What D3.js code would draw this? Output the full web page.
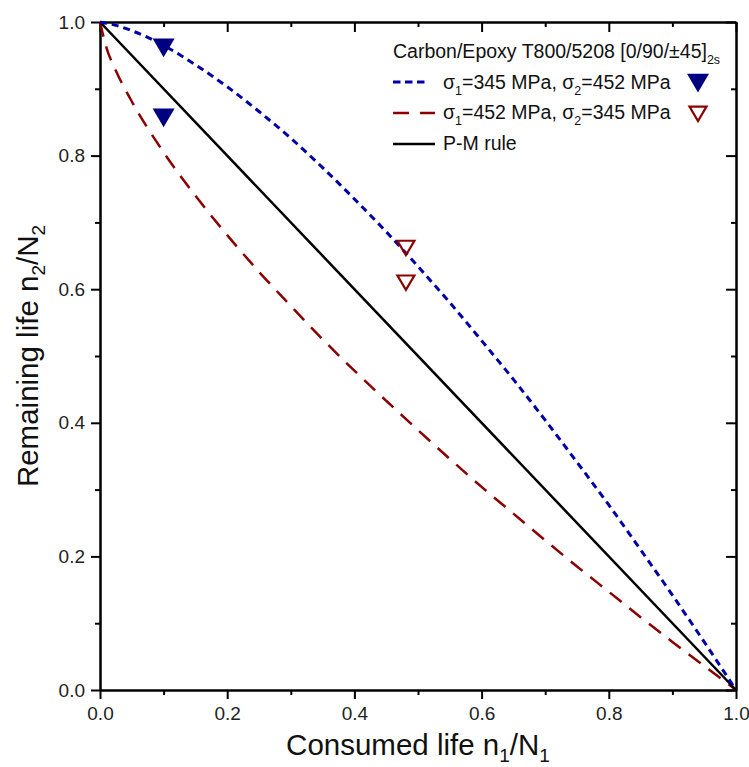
<!DOCTYPE html>
<meta charset="utf-8">
<script src="https://d3js.org/d3.v7.min.js"></script>
<style>
  body { margin: 0; background: #fff; }
  text { font-family: "Liberation Sans", Arial, sans-serif; }
</style>
<body>
<div id="chart"></div>
<script>
// values
var xGrid = [0, 0.01, 0.025, 0.05, 0.1, 0.15, 0.2, 0.25, 0.3, 0.35, 0.4, 0.45, 0.5, 0.55, 0.6, 0.65, 0.7, 0.75, 0.8, 0.85, 0.9, 0.95, 1];
var blueCurve = [1, 0.998, 0.995, 0.987, 0.965, 0.936, 0.903, 0.866, 0.826, 0.782, 0.735, 0.686, 0.634, 0.580, 0.523, 0.465, 0.404, 0.341, 0.277, 0.210, 0.142, 0.072, 0];
var redCurve  = [1, 0.962, 0.927, 0.881, 0.805, 0.740, 0.681, 0.626, 0.575, 0.525, 0.478, 0.433, 0.389, 0.346, 0.304, 0.264, 0.224, 0.185, 0.147, 0.109, 0.072, 0.036, 0];
var pmX = [0, 1];
var pmY = [1, 0];
var blueMarkX = [0.1, 0.1];
var blueMarkY = [0.963, 0.858];
var redMarkX = [0.481, 0.481];
var redMarkY = [0.663, 0.611];
var tickVals = [0, 0.2, 0.4, 0.6, 0.8, 1.0];
var minorVals = [0.1, 0.3, 0.5, 0.7, 0.9];

var W = 749, H = 767;
var margin = { top: 22, right: 13, bottom: 77, left: 100 };
var width = W - margin.left - margin.right,
    height = H - margin.top - margin.bottom;

var svg = d3.select("#chart").append("svg")
  .attr("width", W).attr("height", H);
var g = svg.append("g")
  .attr("transform", "translate(" + margin.left + "," + margin.top + ")");

var x = d3.scaleLinear().domain([0, 1]).range([0, width]);
var y = d3.scaleLinear().domain([0, 1]).range([height, 0]);

var fmt = d3.format(".1f");

// axes: bottom/left with labels, top/right mirrored
function styleAxis(sel) {
  sel.select(".domain").attr("stroke", "#000").attr("stroke-width", 2);
  sel.selectAll(".tick line").attr("stroke", "#000").attr("stroke-width", 2);
  sel.selectAll("text").attr("font-size", 19).attr("fill", "#222")
    .style("font-family", "'Liberation Sans', Arial, sans-serif");
}

g.append("g").attr("transform", "translate(0," + height + ")")
  .call(d3.axisBottom(x).tickValues(tickVals).tickFormat(fmt).tickSize(9).tickPadding(8).tickSizeOuter(0))
  .call(styleAxis);
g.append("g").attr("transform", "translate(0," + height + ")")
  .call(d3.axisBottom(x).tickValues(minorVals).tickFormat("").tickSize(5).tickSizeOuter(0))
  .call(styleAxis);
g.append("g")
  .call(d3.axisLeft(y).tickValues(tickVals).tickFormat(fmt).tickSize(9).tickPadding(6).tickSizeOuter(0))
  .call(styleAxis);
g.append("g")
  .call(d3.axisLeft(y).tickValues(minorVals).tickFormat("").tickSize(5).tickSizeOuter(0))
  .call(styleAxis);
// top axis: ticks pointing down (inside)
g.append("g")
  .call(d3.axisTop(x).tickValues(tickVals).tickFormat("").tickSize(-10).tickSizeOuter(0))
  .call(styleAxis);
g.append("g")
  .call(d3.axisTop(x).tickValues(minorVals).tickFormat("").tickSize(-5).tickSizeOuter(0))
  .call(styleAxis);
// right axis: ticks pointing left (inside)
g.append("g").attr("transform", "translate(" + width + ",0)")
  .call(d3.axisRight(y).tickValues(tickVals).tickFormat("").tickSize(-10).tickSizeOuter(0))
  .call(styleAxis);
g.append("g").attr("transform", "translate(" + width + ",0)")
  .call(d3.axisRight(y).tickValues(minorVals).tickFormat("").tickSize(-5).tickSizeOuter(0))
  .call(styleAxis);

var line = d3.line().x(function (d) { return x(d[0]); }).y(function (d) { return y(d[1]); })
  .curve(d3.curveMonotoneX);

function pairs(xs, ys) { return xs.map(function (v, i) { return [v, ys[i]]; }); }

g.append("path").datum(pairs(xGrid, redCurve))
  .attr("d", line).attr("fill", "none")
  .attr("stroke", "#8b0000").attr("stroke-width", 2.5).attr("stroke-dasharray", "15,10");
g.append("path").datum(pairs(pmX, pmY))
  .attr("d", line).attr("fill", "none")
  .attr("stroke", "#000").attr("stroke-width", 2.5);
g.append("path").datum(pairs(xGrid, blueCurve))
  .attr("d", line).attr("fill", "none")
  .attr("stroke", "#0000a8").attr("stroke-width", 3).attr("stroke-dasharray", "7,5");

// markers (down-pointing triangles)
function tri(cx, cy, s) {
  return "M" + (cx - s) + "," + (cy - s * 0.75) + "L" + (cx + s) + "," + (cy - s * 0.75) + "L" + cx + "," + (cy + s * 0.95) + "Z";
}
g.selectAll(".bm").data(pairs(blueMarkX, blueMarkY)).enter().append("path")
  .attr("d", function (d) { return tri(x(d[0]), y(d[1]), 11); })
  .attr("fill", "#000080");
g.selectAll(".rm").data(pairs(redMarkX, redMarkY)).enter().append("path")
  .attr("d", function (d) { return tri(x(d[0]), y(d[1]), 8.5); })
  .attr("fill", "none").attr("stroke", "#8b0000").attr("stroke-width", 2.2);

// legend
var lg = svg.append("g");
var t = lg.append("text").attr("x", 393).attr("y", 58).attr("font-size", 19.5).attr("fill", "#111");
t.append("tspan").text("Carbon/Epoxy T800/5208 [0/90/\u00b145]");
t.append("tspan").attr("dy", 6).attr("font-size", 12.5).text("2s");

function legendLabel(yy, s1, s2) {
  var tt = lg.append("text").attr("x", 443).attr("y", yy).attr("font-size", 19.5).attr("fill", "#111");
  tt.append("tspan").text("\u03c3");
  tt.append("tspan").attr("dy", 6).attr("font-size", 12.5).text("1");
  tt.append("tspan").attr("dy", -6).text("=" + s1 + " MPa, \u03c3");
  tt.append("tspan").attr("dy", 6).attr("font-size", 12.5).text("2");
  tt.append("tspan").attr("dy", -6).text("=" + s2 + " MPa");
}
lg.append("line").attr("x1", 393).attr("x2", 426).attr("y1", 82).attr("y2", 82)
  .attr("stroke", "#0000a8").attr("stroke-width", 3).attr("stroke-dasharray", "7.5,4.5");
legendLabel(89, 345, 452);
lg.append("path").attr("d", tri(698, 82, 11)).attr("fill", "#000080");

lg.append("line").attr("x1", 393).attr("x2", 435).attr("y1", 113).attr("y2", 113)
  .attr("stroke", "#8b0000").attr("stroke-width", 2.5).attr("stroke-dasharray", "16,11");
legendLabel(119, 452, 345);
lg.append("path").attr("d", tri(698, 113, 8.5)).attr("fill", "none")
  .attr("stroke", "#8b0000").attr("stroke-width", 2.2);

lg.append("line").attr("x1", 393).attr("x2", 435).attr("y1", 144).attr("y2", 144)
  .attr("stroke", "#000").attr("stroke-width", 2.5);
lg.append("text").attr("x", 443).attr("y", 150).attr("font-size", 19.5).attr("fill", "#111").text("P-M rule");

// axis titles
var xt = svg.append("text").attr("x", margin.left + width / 2).attr("y", 755)
  .attr("text-anchor", "middle").attr("font-size", 29.5).attr("fill", "#111");
xt.append("tspan").text("Consumed life n");
xt.append("tspan").attr("dy", 7).attr("font-size", 19).text("1");
xt.append("tspan").attr("dy", -7).text("/N");
xt.append("tspan").attr("dy", 7).attr("font-size", 19).text("1");

var yt = svg.append("text").attr("transform", "translate(38," + (margin.top + height / 2) + ") rotate(-90)")
  .attr("text-anchor", "middle").attr("font-size", 29.5).attr("fill", "#111");
yt.append("tspan").text("Remaining life n");
yt.append("tspan").attr("dy", 7).attr("font-size", 19).text("2");
yt.append("tspan").attr("dy", -7).text("/N");
yt.append("tspan").attr("dy", 7).attr("font-size", 19).text("2");
</script>
</body>
